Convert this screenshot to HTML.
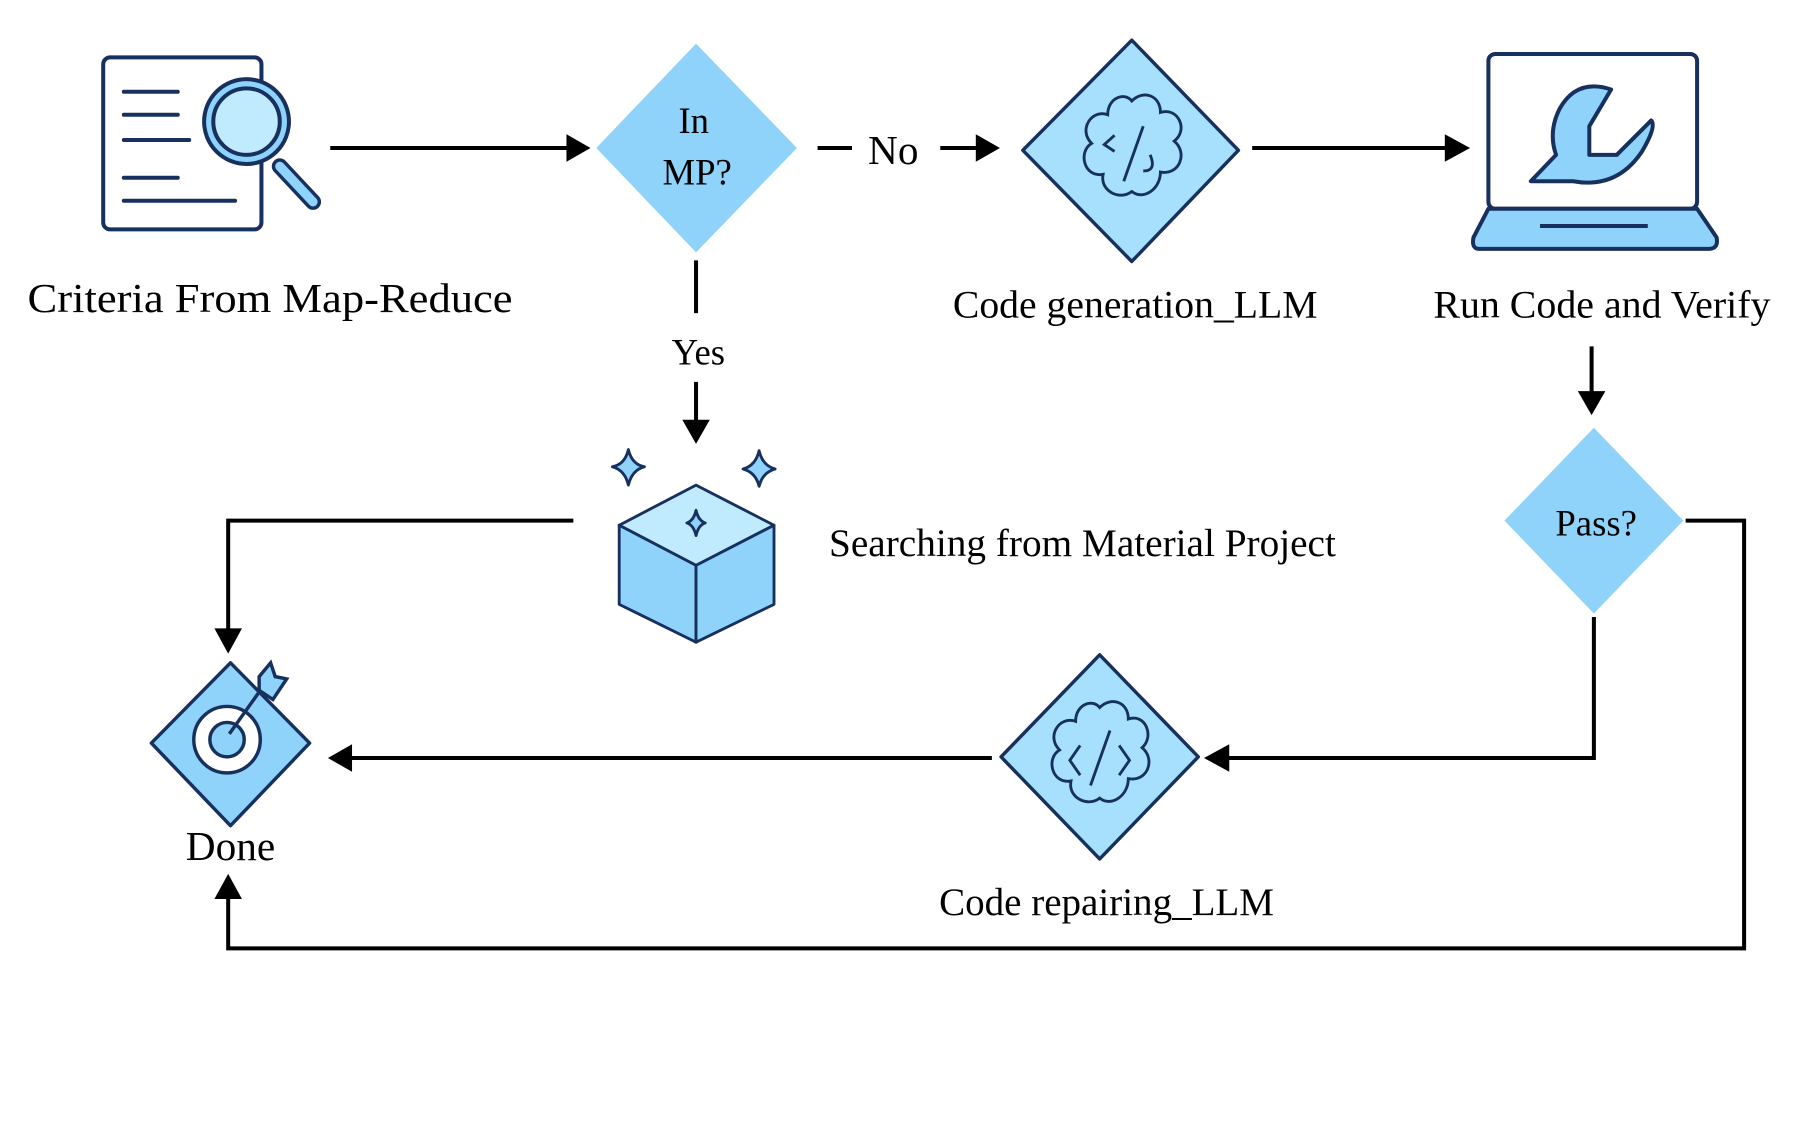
<!DOCTYPE html>
<html><head><meta charset="utf-8"><style>html,body{margin:0;padding:0;background:#fff}svg{display:block}</style></head>
<body>
<svg width="1798" height="1125" viewBox="0 0 1568 981" xmlns="http://www.w3.org/2000/svg" font-family="Liberation Serif, serif" fill="#000">
<g stroke="#000" stroke-width="3.5" fill="none">
<line x1="288" y1="129" x2="496" y2="129"/><path d="M494,117 L515,129 L494,141z" fill="#000" stroke="none"/>
<line x1="713" y1="129" x2="743" y2="129"/>
<line x1="820" y1="129" x2="853" y2="129"/><path d="M851,117 L872,129 L851,141z" fill="#000" stroke="none"/>
<line x1="1092" y1="129" x2="1262" y2="129"/><path d="M1260,117 L1282,129 L1260,141z" fill="#000" stroke="none"/>
<line x1="1388" y1="302" x2="1388" y2="343"/><path d="M1376,341 L1388,362 L1400,341z" fill="#000" stroke="none"/>
<line x1="607" y1="227" x2="607" y2="273"/>
<line x1="607" y1="333" x2="607" y2="368"/><path d="M595,366 L607,387 L619,366z" fill="#000" stroke="none"/>
<polyline points="500,454 199,454 199,550"/><path d="M187,548 L199,570 L211,548z" fill="#000" stroke="none"/>
<polyline points="1470,454 1521,454 1521,827 199,827 199,782"/><path d="M187,784 L199,762 L211,784z" fill="#000" stroke="none"/>
<polyline points="1390,538 1390,661 1070,661"/><path d="M1072,649 L1050,661 L1072,673z" fill="#000" stroke="none"/>
<line x1="865" y1="661" x2="305" y2="661"/><path d="M307,649 L286,661 L307,673z" fill="#000" stroke="none"/>
</g>
<g stroke="#17305e" stroke-width="3.5" stroke-linecap="round">
<rect x="90" y="50" width="138" height="150" rx="6" fill="#fff"/>
<line x1="108" y1="80" x2="155" y2="80"/><line x1="108" y1="100" x2="155" y2="100"/><line x1="108" y1="122" x2="165" y2="122"/><line x1="108" y1="155" x2="155" y2="155"/><line x1="108" y1="175" x2="205" y2="175"/>
<line x1="244" y1="145" x2="273" y2="176" stroke-width="14"/>
<line x1="244" y1="145" x2="273" y2="176" stroke="#8dd3fb" stroke-width="8"/>
<circle cx="215" cy="106" r="37" fill="#8dd3fb"/>
<circle cx="215" cy="106" r="29" fill="#c0eafd"/>
</g>
<path d="M607,38 L695,129 L607,220 L520,129z" fill="#8fd3fb"/>
<text x="605" y="116" font-size="32" text-anchor="middle">In</text>
<text x="608" y="161" font-size="32" text-anchor="middle">MP?</text>
<text x="24" y="272" font-size="36" textLength="423" lengthAdjust="spacingAndGlyphs">Criteria From Map-Reduce</text>
<text x="757" y="143" font-size="36">No</text>
<path d="M987,35 L1080,131 L987,228 L892,131z" fill="#a6e0fd" stroke="#17305e" stroke-width="3" stroke-linejoin="round"/>
<g fill="none" stroke="#17305e" stroke-width="2.5">
<path d="M987,88 c10,-10 25,-5 25,10 c15,-5 25,15 12,25 c12,10 5,30 -12,27 c0,15 -15,25 -25,17 c-10,8 -28,0 -25,-15 c-17,3 -22,-20 -10,-27 c-12,-12 0,-30 14,-25 c0,-15 15,-20 21,-12z"/>
<line x1="997" y1="110" x2="980" y2="158"/><path d="M972,118 l-9,8 l9,6"/><path d="M1003,135 q6,14 -6,14"/>
</g>
<text x="990" y="277" font-size="34" text-anchor="middle" textLength="318" lengthAdjust="spacingAndGlyphs">Code generation_LLM</text>
<g stroke="#17305e" stroke-width="3.5" stroke-linejoin="round">
<rect x="1298" y="47" width="182" height="135" rx="6" fill="#fff"/>
<path d="M1298,182 L1480,182 L1497,207 Q1499,217 1490,217 L1290,217 Q1283,217 1285,207z" fill="#8fd3fb"/>
<line x1="1343" y1="197" x2="1437" y2="197" stroke-width="3.5"/>
<path d="M1405,78 Q1375,68 1360,95 Q1350,115 1357,135 L1335,158 L1372,158 Q1410,165 1432,132 Q1445,110 1440,105 L1410,135 L1386,135 L1386,110z" fill="#8fd3fb"/>
</g>
<text x="1397" y="277" font-size="34" text-anchor="middle" textLength="294" lengthAdjust="spacingAndGlyphs">Run Code and Verify</text>
<path d="M1390,373 L1468,454 L1390,535 L1312,454z" fill="#8fd3fb"/>
<text x="1392" y="467" font-size="32" text-anchor="middle">Pass?</text>
<text x="609" y="318" font-size="32" text-anchor="middle">Yes</text>
<g fill="#8fd3fb" stroke="#17305e" stroke-width="2.5" stroke-linejoin="round">
<path d="M548,392 Q551,405 562,407 Q551,410 548,423 Q545,410 534,407 Q545,405 548,392z"/>
<path d="M662,393 Q665,406 676,409 Q665,412 662,424 Q659,412 648,409 Q659,406 662,393z"/>
<path d="M607,423 L675,458 L607,493 L540,458z" fill="#c0eafd"/>
<path d="M540,458 L607,493 L607,560 L540,527z"/>
<path d="M675,458 L607,493 L607,560 L675,527z"/>
<path d="M607,445 Q609,454 615,456 Q609,458 607,467 Q605,458 599,456 Q605,454 607,445z" fill="#8fd3fb"/>
</g>
<text x="723" y="485" font-size="34" textLength="442" lengthAdjust="spacingAndGlyphs">Searching from Material Project</text>
<path d="M959,571 L1045,660 L959,749 L873,660z" fill="#a6e0fd" stroke="#17305e" stroke-width="3" stroke-linejoin="round"/>
<g fill="none" stroke="#17305e" stroke-width="2.5">
<path d="M959,617 c10,-10 25,-5 25,10 c15,-5 23,15 12,25 c12,10 5,30 -12,27 c0,15 -15,25 -25,17 c-10,8 -28,0 -25,-15 c-17,3 -22,-20 -10,-27 c-12,-12 0,-30 14,-25 c0,-15 15,-20 21,-12z"/>
<line x1="968" y1="637" x2="951" y2="685"/><path d="M942,650 l-9,13 l9,13"/><path d="M976,650 l9,13 l-9,13"/>
</g>
<text x="965" y="798" font-size="34" text-anchor="middle" textLength="292" lengthAdjust="spacingAndGlyphs">Code repairing_LLM</text>
<path d="M201,578 L270,648 L201,720 L132,648z" fill="#8fd3fb" stroke="#17305e" stroke-width="3" stroke-linejoin="round"/>
<g stroke="#17305e" stroke-width="3">
<circle cx="198" cy="645" r="29" fill="#fff"/>
<circle cx="198" cy="645" r="15" fill="#8fd3fb"/>
<line x1="200" y1="640" x2="232" y2="595"/>
<path d="M226,590 L236,578 L240,590 L250,592 L238,610 L226,602z" fill="#8fd3fb"/>
</g>
<text x="201" y="750" font-size="36" text-anchor="middle">Done</text>
</svg>
</body></html>
